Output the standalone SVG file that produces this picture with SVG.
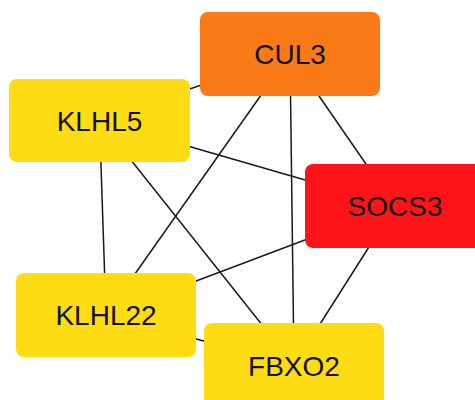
<svg xmlns="http://www.w3.org/2000/svg" width="475" height="400" viewBox="0 0 475 400">
<style>
.e{stroke:#1a1a1a;stroke-width:1.5;fill:none}
.n{stroke:none}
.t{font-family:"Liberation Sans",Arial,sans-serif;font-size:28px;fill:#111;text-anchor:middle}
</style>
<rect width="475" height="400" fill="#fff"/>
<g id="edges">
<line class="e" x1="290" y1="54" x2="99.5" y2="120.5"/>
<line class="e" x1="290" y1="54" x2="395" y2="206"/>
<line class="e" x1="290" y1="54" x2="106" y2="315"/>
<line class="e" x1="290" y1="54" x2="294" y2="365"/>
<line class="e" x1="99.5" y1="120.5" x2="395" y2="206"/>
<line class="e" x1="99.5" y1="120.5" x2="106" y2="315"/>
<line class="e" x1="99.5" y1="120.5" x2="294" y2="365"/>
<line class="e" x1="395" y1="206" x2="106" y2="315"/>
<line class="e" x1="395" y1="206" x2="294" y2="365"/>
<line class="e" x1="106" y1="315" x2="294" y2="365"/>
</g>
<g id="CUL3"><rect class="n" x="200" y="12" width="180" height="84" rx="8" fill="#F97A16"/><text class="t" x="290" y="64">CUL3</text></g>
<g id="KLHL5"><rect class="n" x="9" y="79" width="181" height="83" rx="8" fill="#FDDC13"/><text class="t" x="99.5" y="131">KLHL5</text></g>
<g id="SOCS3"><rect class="n" x="305" y="164" width="180" height="84" rx="8" fill="#FE1418"/><text class="t" x="395" y="216">SOCS3</text></g>
<g id="KLHL22"><rect class="n" x="16" y="273" width="180" height="84" rx="8" fill="#FDDC13"/><text class="t" x="106" y="325">KLHL22</text></g>
<g id="FBXO2"><rect class="n" x="204" y="323" width="180" height="84" rx="8" fill="#FDDC13"/><text class="t" x="294" y="376">FBXO2</text></g>
</svg>
